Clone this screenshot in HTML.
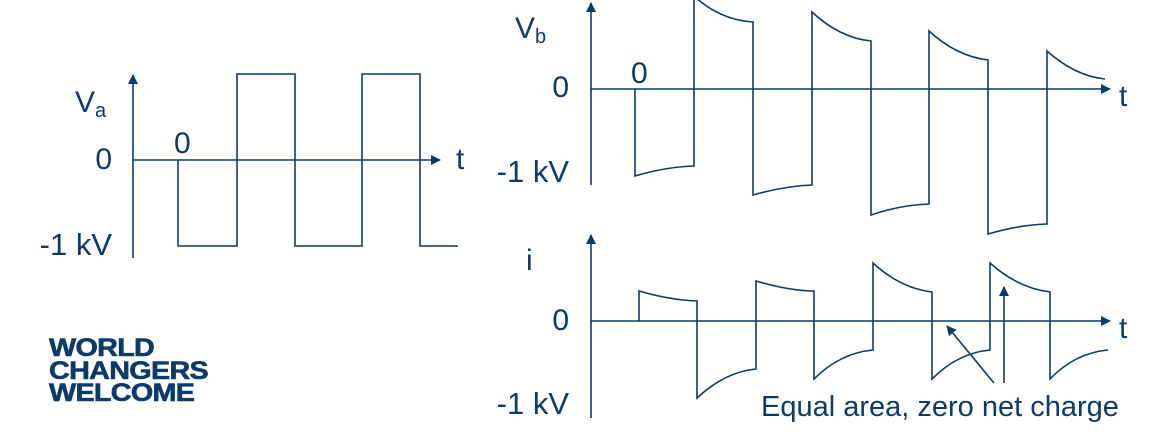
<!DOCTYPE html>
<html><head><meta charset="utf-8"><style>
html,body{margin:0;padding:0;background:#fff;}
body{width:1154px;height:446px;position:relative;overflow:hidden;font-family:"Liberation Sans",sans-serif;}
.logo{position:absolute;left:49px;top:337px;color:#0c3b6b;font-weight:bold;font-size:25px;line-height:22.5px;transform:scaleX(1.15);transform-origin:0 0;letter-spacing:-0.6px;-webkit-text-stroke:0.6px #0c3b6b;}
</style></head><body>
<svg width="1154" height="446" style="position:absolute;left:0;top:0" font-family="Liberation Sans, sans-serif">
<defs><marker id="ar" markerWidth="10" markerHeight="10" refX="9" refY="5" orient="auto" markerUnits="userSpaceOnUse"><path d="M0,0 L10,5 L0,10 z" fill="#0c3b6b"/></marker></defs>
<g stroke="#0c3b6b" stroke-width="1.6" fill="none">
<line x1="133" y1="258" x2="133" y2="75" marker-end="url(#ar)"/>
<line x1="133" y1="160" x2="440" y2="160" marker-end="url(#ar)"/>
<polyline points="178,160 178,246 237,246 237,74 295,74 295,246 362,246 362,74 420,74 420,246 458,246"/>
<line x1="591" y1="185" x2="591" y2="3" marker-end="url(#ar)"/>
<line x1="591" y1="89" x2="1110" y2="89" marker-end="url(#ar)"/>
<path d="M635,89 L635,176 Q665,167 694,166 L694,-4 Q720,20 753,22 L753,195 Q785,186 812,185 L812,12 Q840,38 871,41 L871,215 Q900,205 929,204 L929,31 Q956,56 988,60 L988,234 Q1018,225 1047,224 L1047,51 Q1075,76 1105,79"/>
<line x1="591" y1="418" x2="591" y2="235" marker-end="url(#ar)"/>
<line x1="591" y1="321" x2="1110" y2="321" marker-end="url(#ar)"/>
<path d="M639,321 L639,291 Q670,300 697,301 L697,398 Q725,372 756,369 L756,281 Q790,291 814,291 L814,379 Q840,353 873,350 L873,263 Q900,288 932,292 L932,379 Q958,353 990,350 L990,263 Q1018,288 1050,292 L1050,379 Q1075,353 1108,350"/>
<line x1="994" y1="383" x2="947" y2="326" marker-end="url(#ar)"/>
<line x1="1004" y1="383" x2="1004" y2="287" marker-end="url(#ar)"/>
</g>
<g fill="#0c3b6b" font-size="30">
<text x="75" y="112">V<tspan font-size="20" dy="5">a</tspan></text>
<text x="112" y="169" text-anchor="end">0</text>
<text x="174" y="153">0</text>
<text x="112" y="255" text-anchor="end" font-size="31">-1 kV</text>
<text x="456" y="169">t</text>
<text x="515" y="38">V<tspan font-size="20" dy="5">b</tspan></text>
<text x="569" y="97" text-anchor="end">0</text>
<text x="631" y="83">0</text>
<text x="569" y="182" text-anchor="end" font-size="31">-1 kV</text>
<text x="1119" y="106">t</text>
<text x="526" y="270">i</text>
<text x="569" y="330" text-anchor="end">0</text>
<text x="569" y="414" text-anchor="end" font-size="31">-1 kV</text>
<text x="1119" y="338">t</text>
<text x="761" y="416" font-size="29">Equal area, zero net charge</text>
</g>
</svg>
<div class="logo">WORLD<br>CHANGERS<br>WELCOME</div>
</body></html>
